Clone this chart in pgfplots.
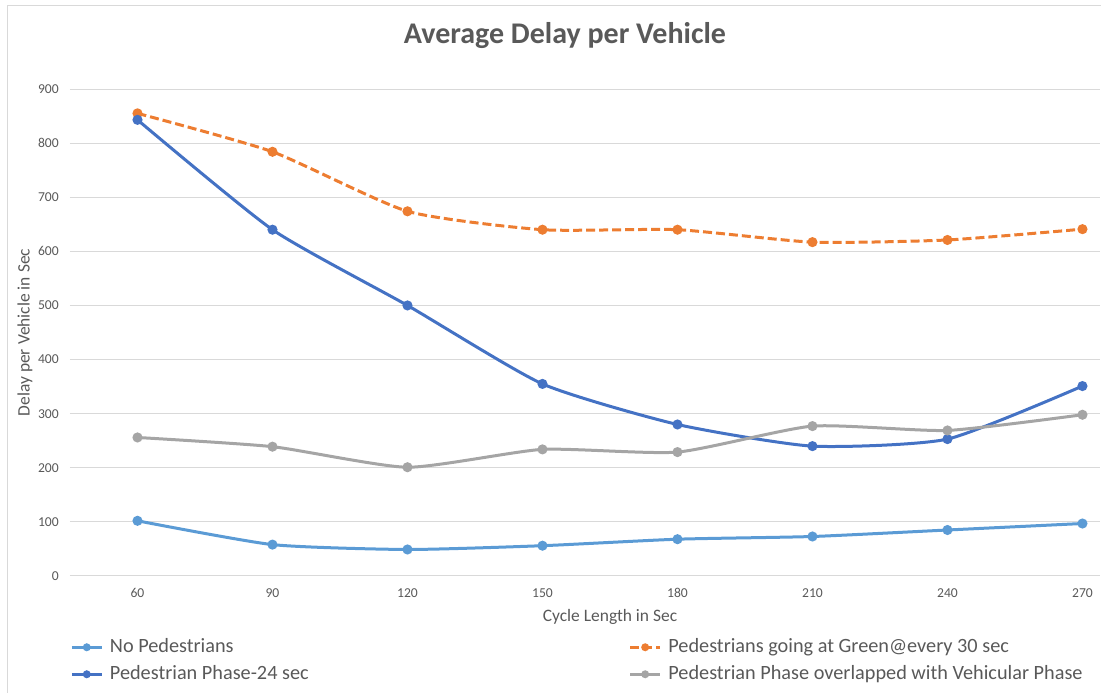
\documentclass[border=0pt]{standalone}
\usepackage{fontspec}
\setmainfont{Carlito}
\usepackage{pgfplots}
\pgfplotsset{compat=1.18}
\definecolor{cA}{HTML}{5B9BD5}
\definecolor{cB}{HTML}{ED7D31}
\definecolor{cC}{HTML}{4472C4}
\definecolor{cD}{HTML}{A5A5A5}
\definecolor{txt}{HTML}{595959}
\definecolor{gridc}{HTML}{D9D9D9}
\begin{document}
\begin{tikzpicture}
\useasboundingbox (0,0) rectangle (825.75pt,519.75pt);
\draw[gridc, line width=0.75pt] (5.25pt,-5pt) -- (5.25pt,515.25pt) -- (830pt,515.25pt);
\begin{axis}[
  at={(52.5pt,87.75pt)}, anchor=south west,
  scale only axis, width=772.5pt, height=365.25pt,
  xmin=45, xmax=273.9, ymin=0, ymax=900,
  xtick={60,90,...,270}, ytick={0,100,...,900},
  axis line style={draw=none},
  major tick length=0pt,
  xmajorgrids=false, ymajorgrids=true,
  grid style={color=gridc, line width=0.75pt},
  /pgf/number format/assume math mode=true,
  tick label style={font=\fontsize{10.2}{12}\selectfont, text=txt, inner sep=0pt},
  xticklabel shift=9pt,
  yticklabel shift=8.25pt,
  title={Average Delay per Vehicle},
  every axis title/.style={at={(0.4806,1.0939)}, anchor=base, inner sep=0pt, font=\fontsize{22.5}{26}\selectfont\bfseries, text=txt},
  xlabel={Cycle Length in Sec},
  ylabel={Delay per Vehicle in Sec},
  x label style={at={(axis description cs:0.5243,-0.0842)}, anchor=center, font=\fontsize{13.1}{15}\selectfont, text=txt},
  y label style={at={(axis description cs:-0.0437,0.5)}, anchor=center, font=\fontsize{13.1}{15}\selectfont, text=txt},
  legend columns=2,
  legend cell align=left,
  legend style={at={(axis description cs:0,-0.1232)}, anchor=north west, draw=none, fill=none, inner sep=0pt,
    font=\fontsize{15.2}{18}\selectfont, text=txt, row sep=3.75pt,
    nodes={inner sep=1pt, text height=11pt, text depth=3.5pt},
    /tikz/column 1/.style={column sep=4pt},
    /tikz/column 2/.style={column sep=239pt},
    /tikz/column 3/.style={column sep=4pt}},
  legend image code/.code={\draw[mark repeat=2,mark phase=2,#1,mark size=1.8pt] plot coordinates {(0pt,0pt) (11.25pt,0pt) (22.5pt,0pt)};},
  every axis plot/.append style={line width=2.25pt, smooth, tension=0.35, mark=*, mark size=2.6pt},
]
\addplot[cA, mark options={fill=cA, draw=cA}] coordinates {(60,102) (90,58) (120,49) (150,56) (180,68) (210,73) (240,85) (270,97)};
\addlegendentry{No Pedestrians}
\addplot[cB, dash pattern=on 6.75pt off 3pt, mark options={solid, fill=cB, draw=cB}] coordinates {(60,855) (90,784) (120,674) (150,640) (180,640) (210,617) (240,621) (270,641)};
\addlegendentry{Pedestrians going at Green@every 30 sec}
\addplot[cC, mark options={fill=cC, draw=cC}] coordinates {(60,843) (90,640) (120,500) (150,355) (180,280) (210,240) (240,253) (270,351)};
\addlegendentry{Pedestrian Phase-24 sec}
\addplot[cD, mark options={fill=cD, draw=cD}] coordinates {(60,256) (90,239) (120,201) (150,234) (180,229) (210,277) (240,269) (270,298)};
\addlegendentry{Pedestrian Phase overlapped with Vehicular Phase}
\end{axis}
\end{tikzpicture}
\end{document}
